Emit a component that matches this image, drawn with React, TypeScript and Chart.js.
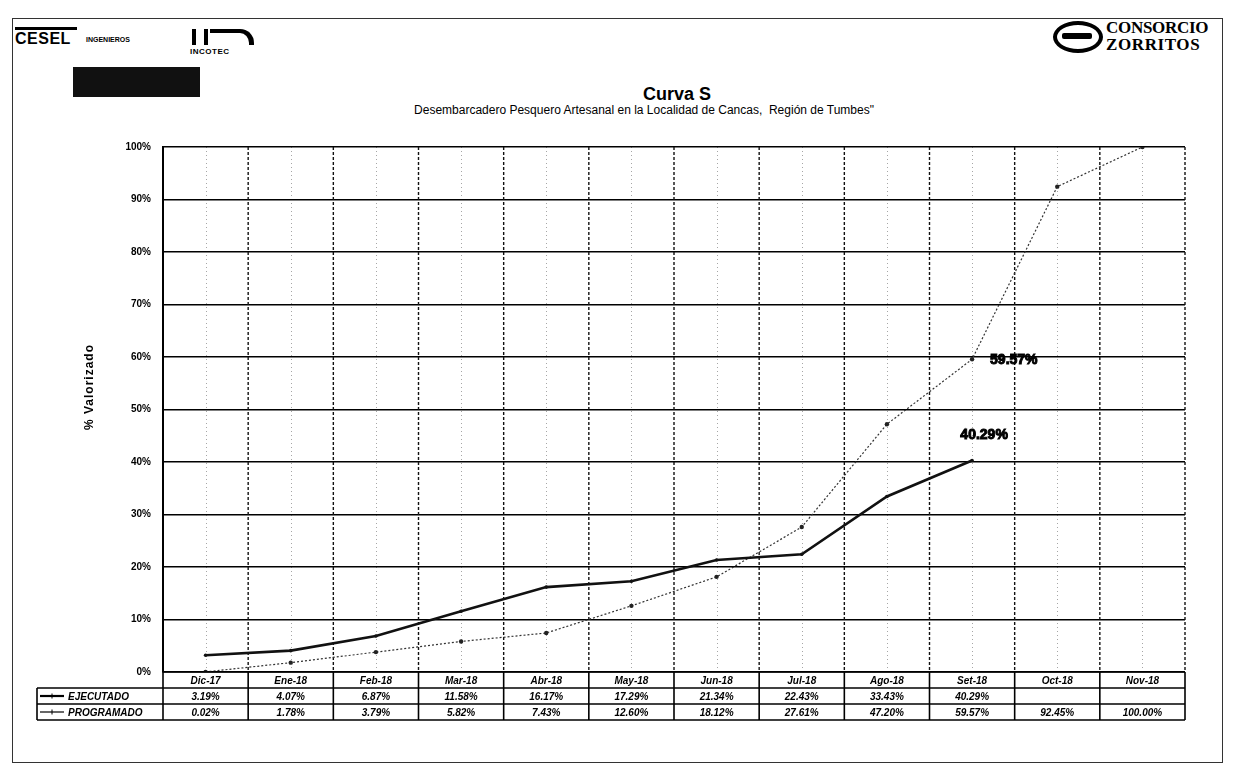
import React, { useEffect, useRef } from 'react';
import { Chart, registerables } from 'chart.js';

Chart.register(...registerables);

// ---------- data ----------
const months: string[] = ['Dic-17', 'Ene-18', 'Feb-18', 'Mar-18', 'Abr-18', 'May-18', 'Jun-18', 'Jul-18', 'Ago-18', 'Set-18', 'Oct-18', 'Nov-18'];
const ejecutado: (number | null)[] = [3.19, 4.07, 6.87, 11.58, 16.17, 17.29, 21.34, 22.43, 33.43, 40.29, null, null];
const programado: number[] = [0.02, 1.78, 3.79, 5.82, 7.43, 12.6, 18.12, 27.61, 47.2, 59.57, 92.45, 100.0];
const seriesNames: string[] = ['EJECUTADO', 'PROGRAMADO'];
const yTickValues: number[] = [0, 10, 20, 30, 40, 50, 60, 70, 80, 90, 100];
const chartTitle = 'Curva S';
const chartSubtitle = 'Desembarcadero Pesquero Artesanal en la Localidad de Cancas,  Región de Tumbes"';
const yTitle = '% Valorizado';
const labelledIndex = 9; // Set-18

const FONT = '"Liberation Sans Narrow", "Liberation Sans", Arial, sans-serif';
const FONT_W = '"Liberation Sans", Arial, sans-serif';

const fmt = (v: number | null) => (v === null || v === undefined ? '' : v.toFixed(2) + '%');

const customPlugin = {
  id: 'curvaCustom',
  beforeDatasetsDraw(chart: any) {
    const { ctx, chartArea: ca, scales } = chart;
    const x = scales.x;
    const half = (x.getPixelForValue(1) - x.getPixelForValue(0)) / 2;
    ctx.save();
    // faint dotted lines at category centres
    ctx.strokeStyle = 'rgba(0,0,0,0.35)';
    ctx.lineWidth = 1;
    ctx.setLineDash([1, 3]);
    months.forEach((_, i) => {
      const px = Math.round(x.getPixelForValue(i)) + 0.5;
      ctx.beginPath();
      ctx.moveTo(px, ca.top);
      ctx.lineTo(px, ca.bottom);
      ctx.stroke();
    });
    // dashed lines at category boundaries
    ctx.strokeStyle = '#111';
    ctx.lineWidth = 1.4;
    ctx.setLineDash([3, 2]);
    months.forEach((_, i) => {
      const px = x.getPixelForValue(i) + half;
      ctx.beginPath();
      ctx.moveTo(px, ca.top);
      ctx.lineTo(px, ca.bottom);
      ctx.stroke();
    });
    ctx.restore();
  },
  afterDraw(chart: any) {
    const { ctx, chartArea: ca, scales } = chart;
    const x = scales.x;
    const half = (x.getPixelForValue(1) - x.getPixelForValue(0)) / 2;
    ctx.save();

    // value labels at Set-18 (heavy, like the scanned original)
    const m0 = chart.getDatasetMeta(0).data[labelledIndex];
    const m1 = chart.getDatasetMeta(1).data[labelledIndex];
    ctx.fillStyle = '#000';
    ctx.strokeStyle = '#000';
    ctx.lineWidth = 1;
    ctx.font = `bold 14px ${FONT_W}`;
    ctx.textBaseline = 'middle';
    ctx.textAlign = 'center';
    ctx.fillText(fmt(ejecutado[labelledIndex]), m0.x + 12, m0.y - 25);
    ctx.strokeText(fmt(ejecutado[labelledIndex]), m0.x + 12, m0.y - 25);
    ctx.textAlign = 'left';
    ctx.fillText(fmt(programado[labelledIndex]), m1.x + 18, m1.y + 1);
    ctx.strokeText(fmt(programado[labelledIndex]), m1.x + 18, m1.y + 1);

    // y axis title
    ctx.save();
    ctx.translate(90, 387);
    ctx.rotate(-Math.PI / 2);
    ctx.font = `bold 12px ${FONT_W}`;
    (ctx as any).letterSpacing = '1px';
    ctx.textAlign = 'center';
    ctx.textBaseline = 'middle';
    ctx.fillText(yTitle, 0, 0);
    ctx.restore();

    // data table
    const rowH = 16;
    const top = ca.bottom;
    const labelLeft = 37;
    ctx.strokeStyle = '#000';
    ctx.lineWidth = 1.6;
    ctx.setLineDash([]);
    const hl = (x1: number, x2: number, y: number) => {
      ctx.beginPath();
      ctx.moveTo(x1, y);
      ctx.lineTo(x2, y);
      ctx.stroke();
    };
    const vl = (xx: number, y1: number, y2: number) => {
      ctx.beginPath();
      ctx.moveTo(xx, y1);
      ctx.lineTo(xx, y2);
      ctx.stroke();
    };
    hl(ca.left, ca.right, top);
    hl(labelLeft, ca.right, top + rowH);
    hl(labelLeft, ca.right, top + 2 * rowH);
    hl(labelLeft, ca.right, top + 3 * rowH);
    vl(ca.left, top, top + 3 * rowH);
    vl(labelLeft, top + rowH, top + 3 * rowH);
    months.forEach((_, i) => {
      vl(x.getPixelForValue(i) + half, top, top + 3 * rowH);
    });

    ctx.fillStyle = '#000';
    ctx.textAlign = 'center';
    ctx.textBaseline = 'middle';
    ctx.font = `italic bold 10px ${FONT}`;
    months.forEach((m, i) => {
      const cx = x.getPixelForValue(i);
      ctx.fillText(m, cx, top + rowH / 2 + 1);
      ctx.fillText(fmt(ejecutado[i]), cx, top + rowH * 1.5 + 1);
      ctx.fillText(fmt(programado[i]), cx, top + rowH * 2.5 + 1);
    });

    // legend keys in label column
    const keys = [
      { name: seriesNames[0], w: 2.2 },
      { name: seriesNames[1], w: 1.2 },
    ];
    keys.forEach((k, r) => {
      const cy = top + rowH * (1.5 + r);
      ctx.lineWidth = k.w;
      hl(labelLeft + 3, labelLeft + 27, cy);
      ctx.lineWidth = 1;
      vl(labelLeft + 15, cy - 2.5, cy + 2.5);
      ctx.textAlign = 'left';
      ctx.font = `italic bold 10px ${FONT}`;
      ctx.fillText(k.name, labelLeft + 31, cy + 1);
    });

    ctx.restore();
  },
};

export default function App() {
  const canvasRef = useRef<HTMLCanvasElement | null>(null);

  useEffect(() => {
    if (!canvasRef.current) return;
    const chart = new Chart(canvasRef.current, {
      type: 'line',
      data: {
        labels: months,
        datasets: [
          {
            label: seriesNames[0],
            data: ejecutado,
            borderColor: '#111',
            backgroundColor: '#111',
            borderWidth: 2.6,
            pointRadius: 1.8,
            pointBorderWidth: 0,
            tension: 0,
            spanGaps: false,
          },
          {
            label: seriesNames[1],
            data: programado,
            borderColor: '#333',
            backgroundColor: '#222',
            borderWidth: 1.2,
            borderDash: [2, 2],
            pointRadius: 2.2,
            pointBorderWidth: 0,
            tension: 0,
          },
        ],
      },
      options: {
        animation: false,
        responsive: false,
        maintainAspectRatio: false,
        layout: { padding: { left: 103, top: 147, right: 48, bottom: 109 } },
        plugins: {
          legend: { display: false },
          tooltip: { enabled: false },
          title: { display: false },
        },
        scales: {
          x: {
            offset: true,
            grid: { display: false },
            border: { display: false },
            ticks: { display: false },
            afterFit: (s: any) => {
              s.height = 0;
            },
          },
          y: {
            min: 0,
            max: 100,
            afterBuildTicks: (s: any) => {
              s.ticks = yTickValues.map((v) => ({ value: v }));
            },
            ticks: {
              color: '#000',
              padding: 12,
              font: { family: FONT_W, size: 10, weight: 'bold' },
              callback: (v: any) => v + '%',
            },
            grid: { color: '#000', lineWidth: 1.5, drawTicks: false },
            border: { display: true, color: '#000', width: 2 },
            afterFit: (s: any) => {
              s.width = 60;
            },
          },
        },
      } as any,
      plugins: [customPlugin],
    });
    return () => chart.destroy();
  }, []);

  return (
    <div style={{ position: 'absolute', left: 0, top: 0, width: 1233, height: 781, background: '#fff', overflow: 'hidden', fontFamily: FONT_W }}>
      {/* page frame */}
      <div style={{ position: 'absolute', left: 12, top: 18, width: 1211, height: 745, border: '1.5px solid #333', boxSizing: 'border-box' }} />
      {/* CESEL logo */}
      <div style={{ position: 'absolute', left: 15, top: 27, width: 62, height: 3, background: '#000' }} />
      <div style={{ position: 'absolute', left: 15, top: 31, fontWeight: 900, fontSize: 16, letterSpacing: 0.5, lineHeight: '16px' }}>CESEL</div>
      <div style={{ position: 'absolute', left: 86, top: 36, fontWeight: 900, fontSize: 7, lineHeight: '8px' }}>INGENIEROS</div>
      {/* INCOTEC logo */}
      <div style={{ position: 'absolute', left: 192, top: 29, width: 16, height: 16, borderLeft: '4px solid #000', borderRight: '4px solid #000', boxSizing: 'border-box' }} />
      <div style={{ position: 'absolute', left: 210, top: 29, width: 44, height: 16, borderTop: '4px solid #000', borderRight: '5px solid #000', borderRadius: '0 14px 0 0', boxSizing: 'border-box' }} />
      <div style={{ position: 'absolute', left: 190, top: 47, fontWeight: 900, fontSize: 8, lineHeight: '9px', letterSpacing: 0.5 }}>INCOTEC</div>
      {/* dark badge */}
      <div style={{ position: 'absolute', left: 73, top: 67, width: 127, height: 30, background: '#111' }} />
      {/* CONSORCIO ZORRITOS */}
      <div style={{ position: 'absolute', left: 1053, top: 21, width: 50, height: 32, border: '4px solid #000', borderRadius: '50%', boxSizing: 'border-box' }} />
      <div style={{ position: 'absolute', left: 1062, top: 33, width: 30, height: 6, background: '#000', borderRadius: 2 }} />
      <div style={{ position: 'absolute', left: 1106, top: 19, fontFamily: '"Liberation Serif", "DejaVu Serif", serif', fontWeight: 900, fontSize: 17, lineHeight: '17px', letterSpacing: -0.3 }}>CONSORCIO</div>
      <div style={{ position: 'absolute', left: 1106, top: 36, fontFamily: '"Liberation Serif", "DejaVu Serif", serif', fontWeight: 900, fontSize: 17, lineHeight: '17px', letterSpacing: 0.6 }}>ZORRITOS</div>
      {/* titles */}
      <div style={{ position: 'absolute', left: 0, width: 1354, top: 84, textAlign: 'center', fontWeight: 'bold', fontSize: 18, lineHeight: '20px' }}>{chartTitle}</div>
      <div style={{ position: 'absolute', left: 0, width: 1288, top: 103, textAlign: 'center', fontSize: 12, lineHeight: '14px', whiteSpace: 'pre' }}>{chartSubtitle}</div>
      <canvas ref={canvasRef} width={1233} height={781} style={{ position: 'absolute', left: 0, top: 0, width: 1233, height: 781 }} />
    </div>
  );
}
